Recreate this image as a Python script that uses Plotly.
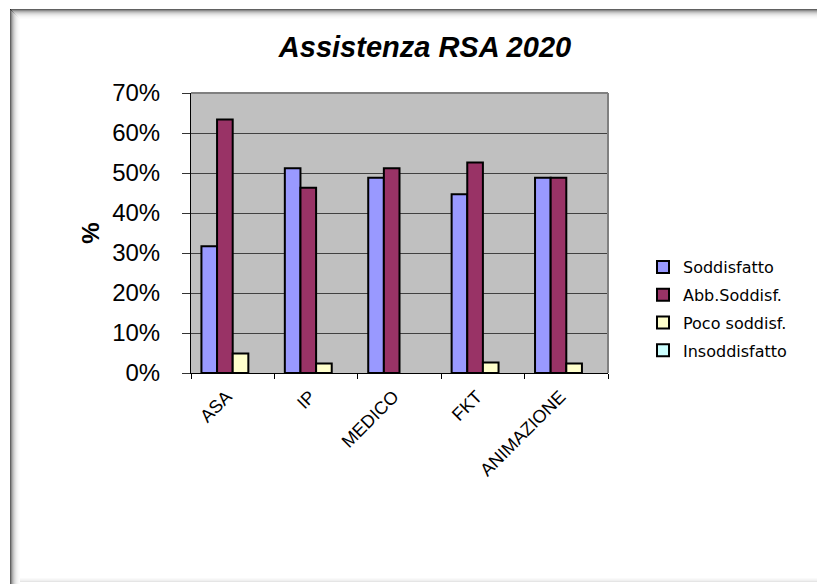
import plotly.graph_objects as go

categories = ["ASA", "IP", "MEDICO", "FKT", "ANIMAZIONE"]
soddisfatto = [0.317, 0.512, 0.488, 0.447, 0.488]
abb_soddisf = [0.634, 0.463, 0.512, 0.526, 0.488]
poco_soddisf = [0.049, 0.024, 0.0, 0.026, 0.024]
insoddisfatto = [0.0, 0.0, 0.0, 0.0, 0.0]
series_names = ["Soddisfatto", "Abb.Soddisf.", "Poco soddisf.", "Insoddisfatto"]
series_values = [soddisfatto, abb_soddisf, poco_soddisf, insoddisfatto]
series_colors = ["#9999FF", "#993366", "#FFFFCC", "#CCFFFF"]
y_ticks = [0, 0.1, 0.2, 0.3, 0.4, 0.5, 0.6, 0.7]
y_ticklabels = ["0%", "10%", "20%", "30%", "40%", "50%", "60%", "70%"]

# page body has an 8px margin, so the figure is laid out in shifted coordinates
OFF = 8
W, H = 825 - OFF, 584 - OFF
L, T, R, B = 191 - OFF, 93 - OFF, 608 - OFF, 373 - OFF   # plot area in figure px
pw, ph = float(R - L), float(B - T)


def px(x):  # reference screen x -> paper x
    return (x - OFF - L) / pw


def py(y):  # reference screen y -> paper y
    return (B - (y - OFF)) / ph


fig = go.Figure()
for i, (name, vals, col) in enumerate(zip(series_names, series_values, series_colors)):
    has_any = any(v > 0 for v in vals)
    fig.add_trace(go.Bar(
        x=categories, y=vals, name=name, legendgroup=name, offsetgroup=str(i),
        showlegend=has_any,
        marker=dict(color=col,
                    line=dict(color="black", width=[2 if v > 0 else 0 for v in vals])),
    ))
    if not has_any:
        # legend entry only (same slot, no data drawn)
        fig.add_trace(go.Bar(
            x=[None], y=[None], name=name, legendgroup=name, offsetgroup=str(i),
            showlegend=True, hoverinfo="skip",
            marker=dict(color=col, line=dict(color="black", width=2)),
        ))

shapes = []
# outer frame with soft shadow (top and left darker)
top_ops = [0.62, 0.45, 0.32, 0.23, 0.16, 0.11, 0.07, 0.045, 0.025, 0.012]
for k, op in enumerate(top_ops):
    shapes.append(dict(type="line", xref="paper", yref="paper",
                       x0=px(10 + k), x1=px(825), y0=py(9.5 + k), y1=py(9.5 + k),
                       line=dict(color=f"rgba(0,0,0,{op})", width=1)))
    shapes.append(dict(type="line", xref="paper", yref="paper",
                       x0=px(10.5 + k), x1=px(10.5 + k), y0=py(600), y1=py(9 + k),
                       line=dict(color=f"rgba(0,0,0,{op})", width=1)))
for k, op in enumerate([0.1, 0.06, 0.04, 0.02]):
    shapes.append(dict(type="line", xref="paper", yref="paper",
                       x0=px(20), x1=px(825), y0=py(581.5 - k), y1=py(581.5 - k),
                       line=dict(color=f"rgba(0,0,0,{op})", width=1)))
    shapes.append(dict(type="line", xref="paper", yref="paper",
                       x0=px(822.5 - k), x1=px(822.5 - k), y0=py(584), y1=py(18),
                       line=dict(color=f"rgba(0,0,0,{op})", width=1)))
# plot area top/right gray border
shapes.append(dict(type="line", xref="paper", yref="paper", x0=0, x1=1, y0=1, y1=1,
                   line=dict(color="#808080", width=2)))
shapes.append(dict(type="line", xref="paper", yref="paper", x0=1, x1=1, y0=0, y1=1,
                   line=dict(color="#808080", width=2)))

fig.update_layout(
    width=W, height=H,
    margin=dict(l=L, r=W - R, t=T, b=H - B, autoexpand=False),
    paper_bgcolor="white", plot_bgcolor="#C0C0C0",
    title=dict(text="<b><i>Assistenza RSA 2020</i></b>", x=px(425), xref="paper",
               xanchor="center", y=1 - (47 - OFF) / H, yanchor="middle",
               font=dict(family="Liberation Sans, Arial", size=29, color="black")),
    barmode="group", bargap=0.25, bargroupgap=0,
    showlegend=True,
    legend=dict(x=px(643), y=py(250), xanchor="left", yanchor="top",
                font=dict(family="DejaVu Sans", size=16, color="black"),
                tracegroupgap=4, traceorder="grouped", itemwidth=30,
                bgcolor="rgba(0,0,0,0)"),
    shapes=shapes,
    xaxis=dict(tickfont=dict(family="Liberation Sans, Arial", size=18, color="black"),
               tickangle=-45, ticks="outside", tickson="boundaries", ticklen=5,
               tickcolor="black", showline=True, linecolor="black", linewidth=1,
               ticklabelshift=-6, ticklabelstandoff=5,
               showgrid=False, fixedrange=True),
    yaxis=dict(range=[0, 0.7], tickvals=y_ticks, ticktext=y_ticklabels,
               tickfont=dict(family="Liberation Sans, Arial", size=24, color="black"),
               ticks="outside", ticklen=8, tickcolor="#333", ticklabelstandoff=17,
               showline=True, linecolor="black", linewidth=1, showgrid=True,
               gridcolor="#404040", gridwidth=1, zeroline=False,
               title=dict(text="<b>%</b>", font=dict(family="Liberation Sans, Arial", size=24, color="black"),
                          standoff=5)),
)

fig.write_html("out.html")
